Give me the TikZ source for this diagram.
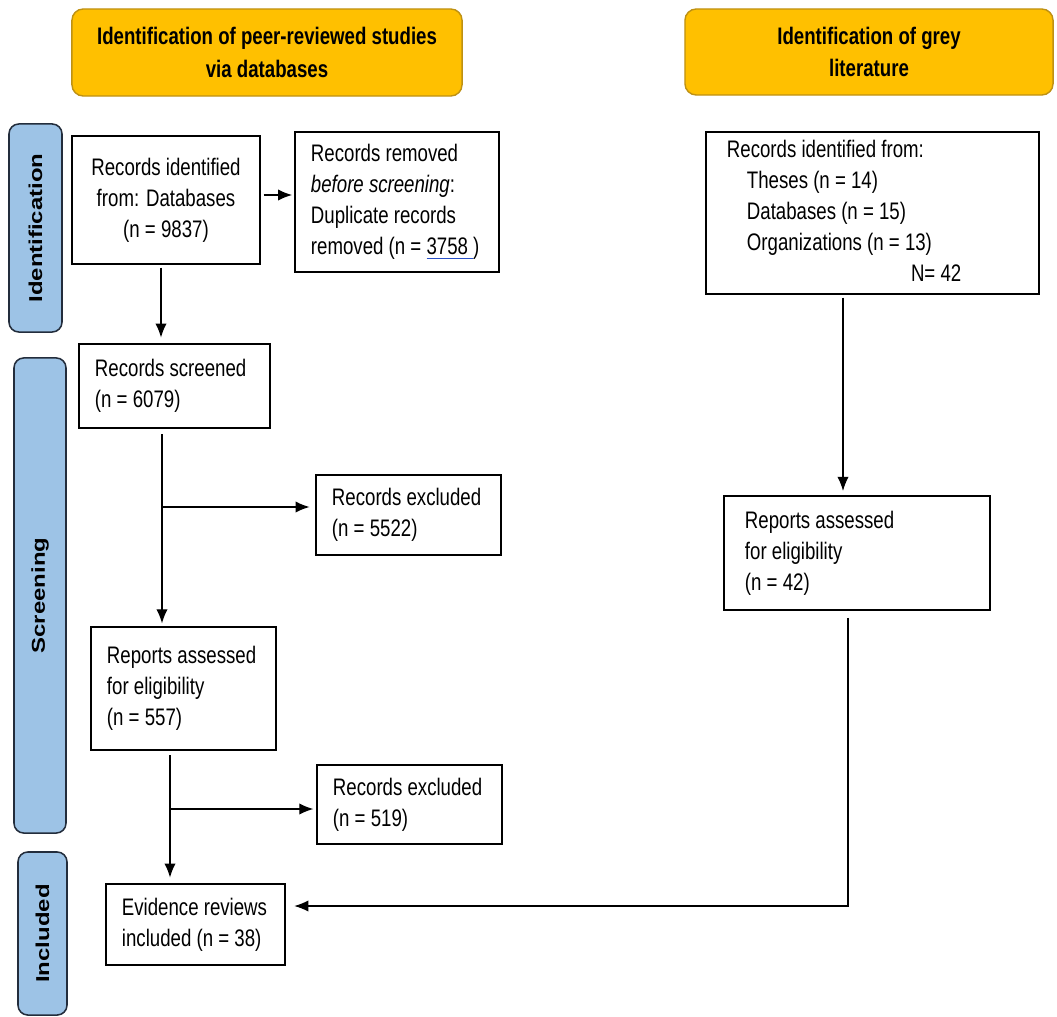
\documentclass[tikz,border=0pt]{standalone}
\usepackage{fontspec}
\usepackage{graphicx}
\setmainfont{Liberation Sans}[FakeStretch=0.78]
\newfontfamily\sidefont{Liberation Sans}
\usetikzlibrary{arrows.meta}

\definecolor{hdrfill}{RGB}{255,192,0}
\definecolor{hdrline}{RGB}{190,145,20}
\definecolor{sidefill}{RGB}{157,195,230}
\definecolor{sideline}{RGB}{35,45,60}
\definecolor{ulblue}{RGB}{40,80,200}

\newcommand{\blueul}[1]{\setbox0\hbox{#1}\rlap{\color{ulblue}\rule[-3pt]{\wd0}{0.9pt}}\box0}
\newcommand{\leftlines}[2]{\makebox[#1][l]{\begin{tabular}{@{}l@{}}#2\end{tabular}}}
\newcommand{\midlines}[2]{\makebox[#1][c]{\begin{tabular}{@{}c@{}}#2\end{tabular}}}

\tikzset{
    box/.style={draw, line width=1.1pt, inner xsep=0.4cm, inner ysep=0pt,
        font=\fontsize{17}{22}\selectfont},
    hdr/.style={draw=hdrline, fill=hdrfill, rounded corners=8pt, line width=1pt, align=center,
        font=\fontsize{17}{23}\selectfont\bfseries},
    side/.style={draw=sideline, fill=sidefill, rounded corners=7pt, line width=1.1pt, inner sep=0pt,
        font=\sidefont\fontsize{17}{20}\selectfont\bfseries},
    arr/.style={line width=0.9pt, -{Latex[length=10pt,width=8pt]}},
}

\begin{document}
\begin{tikzpicture}[x=0.025cm, y=-0.025cm]
    \useasboundingbox (0,0) rectangle (1057,1017);

    % headers
    \node[hdr, minimum width=9.75cm, minimum height=2.175cm] (hdrDb) at (267,52.5)
        {Identification of peer-reviewed studies\\via databases};
    \node[hdr, minimum width=9.2cm, minimum height=2.15cm] (hdrGrey) at (869,52)
        {Identification of grey\\literature};

    % phases
    \node[side, rotate=90, minimum width=5.2cm, minimum height=1.325cm] (sideId) at (35.5,228)
        {\scalebox{1}[0.78]{Identification}};
    \node[side, rotate=90, minimum width=11.875cm, minimum height=1.3cm] (sideScr) at (40,595.5)
        {\scalebox{1}[0.78]{Screening}};
    \node[side, rotate=90, minimum width=4.075cm, minimum height=1.225cm] (sideInc) at (42.5,933.5)
        {\scalebox{1}[0.78]{Included}};

    % databases
    \node[box, minimum height=3.2cm] (idDb) at (166,200)
        {\midlines{3.9cm}{Records identified\\from: Databases\\(n = 9837)}};
    \node[box, minimum height=3.5cm] (removed) at (397,202)
        {\leftlines{4.3cm}{Records removed\\\textit{before screening}:\\Duplicate records\\removed (n = \blueul{3758 })}};
    \node[box, minimum height=2.1cm] (screened) at (174.5,386)
        {\leftlines{3.975cm}{Records screened\\(n = 6079)}};
    \node[box, minimum height=2cm] (exclA) at (408.5,515)
        {\leftlines{3.825cm}{Records excluded\\(n = 5522)}};
    \node[box, minimum height=3.075cm] (assessDb) at (183.5,688.5)
        {\leftlines{3.825cm}{Reports assessed\\for eligibility\\(n = 557)}};
    \node[box, minimum height=1.975cm] (exclB) at (409.5,804.5)
        {\leftlines{3.825cm}{Records excluded\\(n = 519)}};
    \node[box, minimum height=2.025cm] (incl) at (195.5,924.5)
        {\leftlines{3.675cm}{Evidence reviews\\included (n = 38)}};

    % grey literature
    \node[box, inner xsep=0.525cm, minimum height=4.05cm] (idGrey) at (872.5,213)
        {\leftlines{7.275cm}{Records identified from:\\
         \hspace*{0.5cm}Theses (n = 14)\\
         \hspace*{0.5cm}Databases (n = 15)\\
         \hspace*{0.5cm}Organizations (n = 13)\\
         \hspace*{4.6cm}N= 42}};
    \node[box, inner xsep=0.525cm, minimum height=2.85cm] (assessGrey) at (857,553)
        {\leftlines{5.6cm}{Reports assessed\\for eligibility\\(n = 42)}};

    % connectors
    \coordinate (yRem) at (0,195);
    \coordinate (xDb) at (161,0);
    \coordinate (xScr) at (162,0);
    \coordinate (jScr) at (163,507);
    \coordinate (xAss) at (170,0);
    \coordinate (jAss) at (170,809);
    \coordinate (xGrey) at (843,0);
    \coordinate (xBack) at (848,0);
    \coordinate (yBack) at (0,906);

    \draw[arr, shorten <=2pt, shorten >=1.5pt] (idDb.east |- yRem) -- (removed.west |- yRem);
    \draw[arr, shorten <=2pt, shorten >=4pt] (idDb.south -| xDb) -- (screened.north -| xDb);
    \draw[arr, shorten <=4pt, shorten >=2pt] (screened.south -| xScr) -- (assessDb.north -| xScr);
    \draw[arr, shorten >=4pt] (jScr) -- (jScr -| exclA.west);
    \draw[arr, shorten <=3pt, shorten >=4pt] (assessDb.south -| xAss) -- (incl.north -| xAss);
    \draw[arr, shorten >=2pt] (jAss) -- (jAss -| exclB.west);
    \draw[arr, shorten <=2pt, shorten >=3pt] (idGrey.south -| xGrey) -- (assessGrey.north -| xGrey);
    \draw[arr, shorten <=5pt, shorten >=6pt] (assessGrey.south -| xBack) |- (incl.east |- yBack);
\end{tikzpicture}
\end{document}
